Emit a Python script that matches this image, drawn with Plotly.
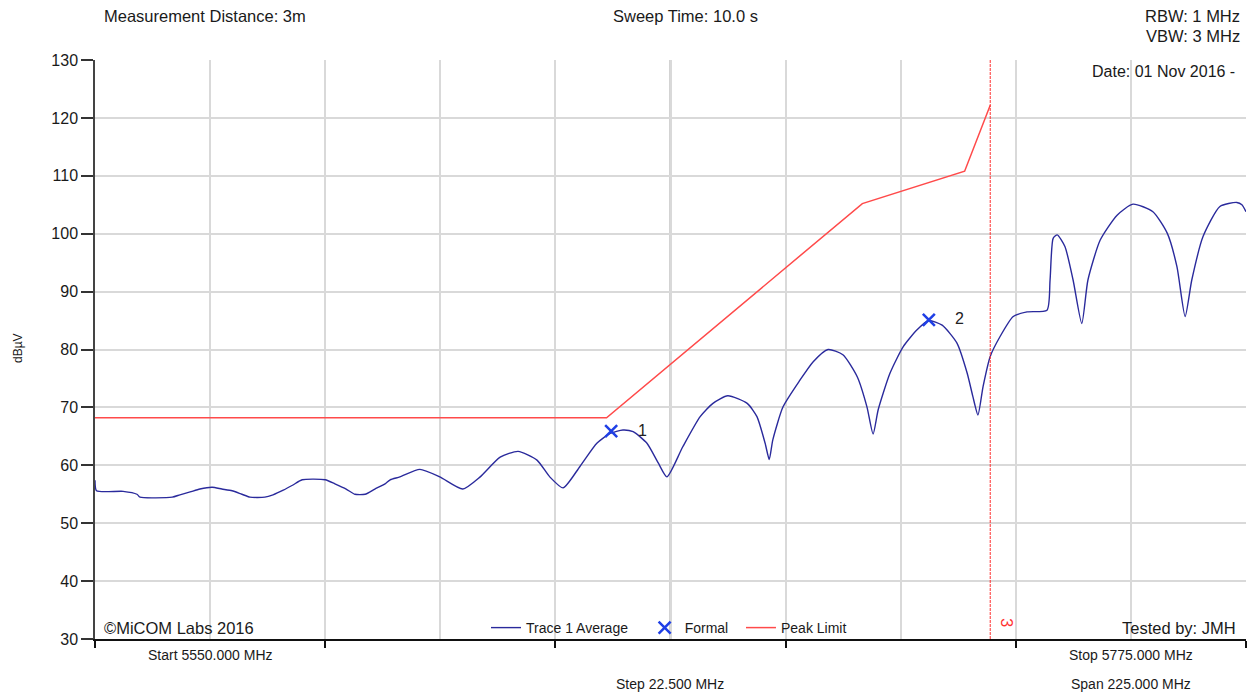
import plotly.graph_objects as go

# ---------------- data ----------------
start_mhz = 5550.0
stop_mhz = 5775.0
step_mhz = 22.5
y_min, y_max = 30, 130

trace_freq = [5550.0, 5550.3, 5555.5, 5558.2, 5558.8, 5565.1, 5566.6, 5568.6, 5570.5, 5572.9,
              5574.8, 5576.8, 5578.7, 5580.3, 5583.2, 5584.8, 5586.8, 5588.7, 5590.5, 5595.0,
              5596.9, 5599.1, 5600.8, 5602.8, 5604.7, 5606.7, 5607.7, 5609.6, 5613.5, 5617.4,
              5621.9, 5625.3, 5629.2, 5632.7, 5636.4, 5638.9, 5641.5, 5644.8, 5648.1, 5650.7,
              5653.2, 5655.2, 5657.9, 5660.1, 5661.8, 5664.9, 5668.3, 5670.8, 5673.7, 5677.5,
              5679.4, 5681.0, 5681.8, 5682.5, 5684.5, 5687.8, 5690.4, 5693.3, 5696.2, 5699.0,
              5700.9, 5702.1, 5703.1, 5705.4, 5708.0, 5710.7, 5713.0, 5715.6, 5718.5, 5720.5,
              5721.6, 5722.6, 5723.6, 5725.0, 5726.9, 5729.5, 5732.2, 5736.1, 5736.7, 5737.3,
              5738.1, 5739.6, 5741.2, 5742.9, 5744.1, 5746.5, 5749.8, 5752.9, 5756.8, 5759.6,
              5761.5, 5763.1, 5764.4, 5766.6, 5769.9, 5773.2, 5774.2, 5775.0]
trace_dbuv = [57.4, 55.6, 55.5, 55.0, 54.5, 54.5, 54.9, 55.4, 55.9, 56.2,
              55.9, 55.6, 55.0, 54.5, 54.5, 54.9, 55.7, 56.6, 57.5, 57.5,
              56.8, 55.9, 55.0, 55.0, 55.9, 56.8, 57.5, 58.0, 59.3, 58.0,
              55.9, 58.0, 61.4, 62.4, 60.9, 58.0, 56.1, 59.8, 63.8, 65.5,
              66.1, 65.8, 63.8, 60.4, 58.0, 63.2, 68.4, 70.7, 72.0, 70.7,
              68.4, 63.8, 61.0, 64.4, 70.1, 74.7, 77.9, 80.0, 79.1, 75.3,
              70.1, 65.4, 69.6, 75.9, 80.5, 83.4, 85.0, 84.2, 81.1, 75.9,
              71.9, 68.7, 73.6, 78.8, 82.2, 85.7, 86.5, 86.8, 92.0, 99.2,
              99.8, 97.8, 92.0, 84.5, 92.0, 98.9, 103.2, 105.1, 103.8, 100.1,
              94.3, 85.7, 92.0, 99.5, 104.7, 105.4, 105.0, 103.8]

limit_freq = [5550.0, 5650.0, 5700.0, 5720.0, 5725.0]
limit_dbuv = [68.2, 68.2, 105.2, 110.8, 122.2]

marker_freq = [5650.9, 5713.0]
marker_dbuv = [65.9, 85.1]
marker_labels = ["1", "2"]

band_edge_freq = 5725.0
band_edge_label = "3"

header_left = "Measurement Distance: 3m"
header_mid = "Sweep Time: 10.0 s"
header_right = ["RBW: 1 MHz", "VBW: 3 MHz"]
date_text = "Date: 01 Nov 2016 -"
copyright_text = "©MiCOM Labs 2016"
tested_text = "Tested by: JMH"
y_title = "dBµV"

# ---------------- figure ----------------
FONT = "Liberation Sans, Arial, sans-serif"
W, H = 1252, 694
ML, MR, MT, MB = 95, 6, 60, 55
PW, PH = W - ML - MR, H - MT - MB
NB = "\u00a0"


def px(xp):
    return (xp - ML) / PW


def py(yp):
    return (H - MB - yp) / PH


fig = go.Figure()

fig.add_trace(go.Scatter(
    x=trace_freq, y=trace_dbuv, mode="lines", name="Trace 1 Average" + NB * 3,
    line=dict(color="#2a2a9c", width=1.4, shape="spline", smoothing=0.6), hoverinfo="x+y"))

fig.add_trace(go.Scatter(
    x=marker_freq, y=marker_dbuv, mode="markers", name="Formal" + NB * 2,
    marker=dict(symbol="x-thin", size=12, color="#1f3fe6",
                line=dict(color="#1f3fe6", width=2.5))))

fig.add_trace(go.Scatter(
    x=limit_freq, y=limit_dbuv, mode="lines", name="Peak Limit",
    line=dict(color="#ff4a4a", width=1.5)))

center = (start_mhz + stop_mhz) / 2
fig.add_shape(type="line", xref="x", yref="paper", x0=center, x1=center, y0=0, y1=1,
              line=dict(color="#a8a8a8", width=2), layer="below")
fig.add_shape(type="line", xref="x", yref="paper", x0=band_edge_freq, x1=band_edge_freq,
              y0=0, y1=1, line=dict(color="#ff3030", width=1, dash="3px,1px"))

annotations = []
for f, v, lab in zip(marker_freq, marker_dbuv, marker_labels):
    annotations.append(dict(x=f, y=v, xref="x", yref="y", text=lab, showarrow=False,
                            xshift=31, yshift=1, font=dict(family=FONT, size=16, color="#222")))

annotations.append(dict(x=band_edge_freq, y=py(629), xref="x", yref="paper",
                        text=band_edge_label, showarrow=False, xshift=16, textangle=90,
                        font=dict(family=FONT, size=16, color="#ff3030")))


def txt(text, x, y, anchor, size=16.5, color="#1a1a1a"):
    annotations.append(dict(x=px(x), y=py(y), xref="paper", yref="paper", text=text,
                            showarrow=False, xanchor=anchor, yanchor="middle",
                            font=dict(family=FONT, size=size, color=color)))


txt(header_left, 102, 16, "left")
txt(header_mid, 611, 16, "left")
txt(header_right[0], 1242, 16, "right")
txt(header_right[1], 1242, 36, "right")
txt(date_text, 1237, 71, "right", size=16)
txt(copyright_text, 102, 628, "left")
txt(tested_text, 1238, 628, "right")
txt(f"Start {start_mhz:.3f} MHz", 146, 655, "left", size=14)
txt(f"Step {step_mhz:.3f} MHz", 614, 684, "left", size=14)
txt(f"Stop {stop_mhz:.3f} MHz", 1067, 655, "left", size=14)
txt(f"Span {stop_mhz - start_mhz:.3f} MHz", 1069, 684, "left", size=14)

annotations.append(dict(x=px(18), y=py(348), xref="paper", yref="paper", text=y_title,
                        showarrow=False, textangle=-90, xanchor="center", yanchor="middle",
                        font=dict(family=FONT, size=12, color="#1a1a1a")))

fig.update_layout(
    width=W, height=H,
    margin=dict(l=ML, r=MR, t=MT, b=MB, pad=0),
    paper_bgcolor="white", plot_bgcolor="white",
    font=dict(family=FONT, size=14, color="#1a1a1a"),
    showlegend=True,
    legend=dict(orientation="h", x=px(486), y=py(628), xanchor="left", yanchor="middle",
                bgcolor="rgba(0,0,0,0)", font=dict(family=FONT, size=14, color="#1a1a1a"),
                itemclick=False),
    annotations=annotations,
    xaxis=dict(range=[start_mhz, stop_mhz], tick0=start_mhz, dtick=2 * step_mhz,
               showgrid=True, gridcolor="#d9d9d9", gridwidth=1.5,
               minor=dict(tick0=start_mhz, dtick=step_mhz, showgrid=True,
                          gridcolor="#d9d9d9", gridwidth=1.5, ticks=""),
               ticks="outside", ticklen=7, tickwidth=1.5, tickcolor="#111",
               showticklabels=False, showline=True, linecolor="#111", linewidth=1.5,
               zeroline=False, fixedrange=True),
    yaxis=dict(range=[y_min, y_max], tick0=y_min, dtick=10,
               showgrid=True, gridcolor="#d9d9d9", gridwidth=1.5,
               ticks="outside", ticklen=12, tickwidth=1.5, tickcolor="#333",
               tickfont=dict(family=FONT, size=16, color="#1a1a1a"),
               showline=True, linecolor="#444", linewidth=1.5,
               zeroline=False, fixedrange=True),
)

fig.write_html(
    "out.html",
    config={"displayModeBar": False},
    post_script="document.body.style.margin='0';document.body.style.overflow='hidden';",
)
